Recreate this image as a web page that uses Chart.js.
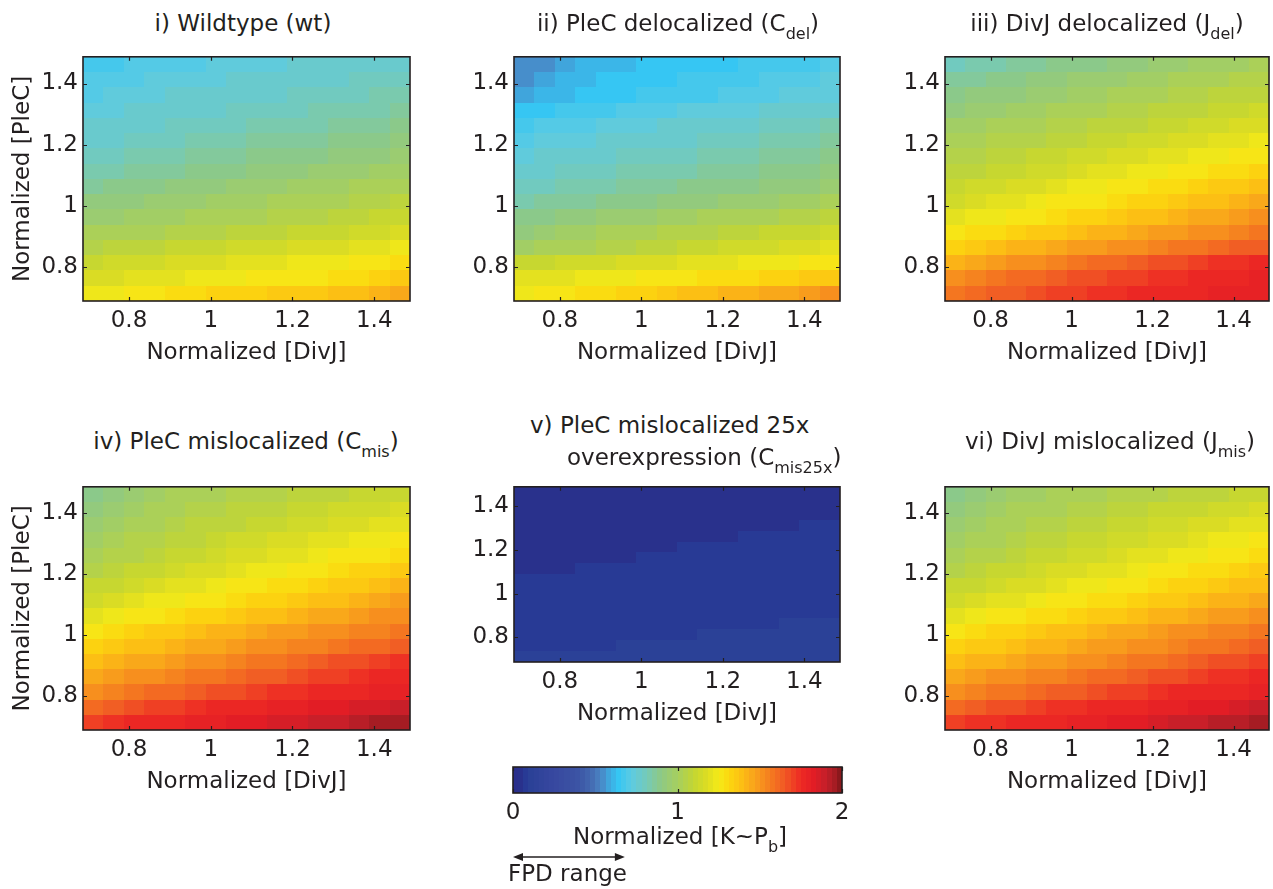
<!DOCTYPE html>
<html>
<head>
<meta charset="utf-8">
<script src="https://cdn.jsdelivr.net/npm/chart.js@4.4.1/dist/chart.umd.min.js"></script>
<style>
  html, body { margin: 0; padding: 0; background: #fff; }
  body { width: 1273px; height: 889px; position: relative; overflow: hidden;
         font-family: 'DejaVu Sans', sans-serif; color: #231f20; }
  canvas { position: absolute; }
  .lbl { position: absolute; font-size: 23px; line-height: 23px; white-space: nowrap; }
  .ctr { width: 600px; text-align: center; }
  .sub { font-size: 16px; position: relative; top: 8px; }
</style>
</head>
<body>
<canvas id="wt"></canvas>
<canvas id="cdel"></canvas>
<canvas id="jdel"></canvas>
<canvas id="cmis"></canvas>
<canvas id="cmis25x"></canvas>
<canvas id="jmis"></canvas>
<canvas id="cbar"></canvas>

<div class="lbl ctr" style="left:-57px; top:12px;">i) Wildtype (wt)</div>
<div class="lbl ctr" style="left:378px; top:12px;">ii) PleC delocalized (C<span class="sub">del</span>)</div>
<div class="lbl ctr" style="left:807px; top:12px;">iii) DivJ delocalized (J<span class="sub">del</span>)</div>
<div class="lbl ctr" style="left:-54px; top:430px;">iv) PleC mislocalized (C<span class="sub">mis</span>)</div>
<div class="lbl" style="left:530px; top:414px;">v) PleC mislocalized 25x</div>
<div class="lbl" style="left:567px; top:446px;">overexpression (C<span class="sub">mis25x</span>)</div>
<div class="lbl ctr" style="left:810px; top:430px;">vi) DivJ mislocalized (J<span class="sub">mis</span>)</div>
<div class="lbl" style="left:573px; top:825px;">Normalized [K~P<span class="sub">b</span>]</div>
<div class="lbl" style="left:508px; top:862px;">FPD range</div>

<script>
// grid of the simulations (cell centres)
const divjLevels = [0.7125, 0.7625, 0.8125, 0.8625, 0.9125, 0.9625, 1.0125, 1.0625,
                    1.1125, 1.1625, 1.2125, 1.2625, 1.3125, 1.3625, 1.4125, 1.4625];
const plecLevels = [1.4625, 1.4125, 1.3625, 1.3125, 1.2625, 1.2125, 1.1625, 1.1125,
                    1.0625, 1.0125, 0.9625, 0.9125, 0.8625, 0.8125, 0.7625, 0.7125];
const axisTicks = [0.8, 1, 1.2, 1.4];
const colorbarTicks = [0, 1, 2];
const fpdRange = [0, 0.68];

// normalized K~Pb, one row per PleC level (top row = highest PleC)
const wtRows = [
  [0.67,0.68,0.69,0.70,0.71,0.71,0.72,0.73,0.74,0.74,0.75,0.76,0.76,0.77,0.78,0.78],
  [0.69,0.70,0.71,0.72,0.73,0.73,0.74,0.75,0.76,0.76,0.77,0.78,0.78,0.79,0.80,0.80],
  [0.71,0.72,0.73,0.74,0.75,0.75,0.76,0.77,0.78,0.78,0.79,0.80,0.80,0.81,0.82,0.83],
  [0.73,0.74,0.75,0.76,0.77,0.77,0.78,0.79,0.80,0.80,0.81,0.82,0.83,0.83,0.84,0.85],
  [0.75,0.76,0.77,0.78,0.79,0.80,0.80,0.81,0.82,0.83,0.84,0.84,0.85,0.86,0.87,0.88],
  [0.77,0.78,0.79,0.80,0.81,0.82,0.83,0.84,0.85,0.85,0.86,0.87,0.88,0.89,0.90,0.91],
  [0.80,0.81,0.82,0.83,0.84,0.85,0.86,0.87,0.88,0.89,0.89,0.90,0.91,0.92,0.93,0.94],
  [0.83,0.84,0.85,0.86,0.87,0.88,0.89,0.90,0.91,0.92,0.93,0.94,0.95,0.96,0.97,0.98],
  [0.87,0.88,0.89,0.90,0.91,0.92,0.93,0.94,0.95,0.96,0.97,0.98,0.99,1.00,1.02,1.03],
  [0.91,0.92,0.93,0.94,0.95,0.96,0.97,0.98,0.99,1.00,1.01,1.02,1.03,1.05,1.06,1.07],
  [0.95,0.96,0.97,0.98,0.99,1.00,1.01,1.02,1.03,1.04,1.05,1.06,1.07,1.08,1.10,1.11],
  [1.00,1.01,1.02,1.03,1.04,1.05,1.06,1.07,1.08,1.09,1.10,1.11,1.12,1.13,1.14,1.16],
  [1.06,1.07,1.08,1.09,1.10,1.11,1.12,1.13,1.14,1.15,1.16,1.17,1.18,1.19,1.21,1.23],
  [1.12,1.13,1.14,1.15,1.16,1.17,1.18,1.19,1.20,1.21,1.22,1.23,1.24,1.25,1.27,1.29],
  [1.17,1.18,1.19,1.20,1.21,1.22,1.23,1.24,1.25,1.26,1.27,1.28,1.29,1.30,1.32,1.35],
  [1.22,1.24,1.26,1.27,1.29,1.30,1.32,1.33,1.34,1.35,1.36,1.37,1.38,1.40,1.42,1.45]
];
const cdelRows = [
  [0.54,0.56,0.58,0.60,0.61,0.62,0.63,0.64,0.64,0.65,0.65,0.66,0.66,0.67,0.68,0.69],
  [0.56,0.58,0.60,0.62,0.63,0.64,0.64,0.65,0.66,0.66,0.67,0.68,0.69,0.70,0.71,0.72],
  [0.58,0.60,0.62,0.63,0.64,0.65,0.66,0.67,0.68,0.68,0.69,0.70,0.71,0.72,0.73,0.74],
  [0.64,0.65,0.66,0.67,0.68,0.69,0.70,0.71,0.72,0.73,0.73,0.74,0.75,0.76,0.77,0.78],
  [0.68,0.69,0.70,0.71,0.72,0.73,0.74,0.75,0.75,0.76,0.77,0.78,0.79,0.80,0.81,0.82],
  [0.71,0.72,0.73,0.74,0.75,0.76,0.77,0.78,0.78,0.79,0.80,0.81,0.82,0.83,0.84,0.85],
  [0.74,0.75,0.76,0.77,0.78,0.79,0.80,0.81,0.81,0.82,0.83,0.84,0.85,0.86,0.87,0.88],
  [0.77,0.78,0.79,0.80,0.81,0.82,0.83,0.83,0.84,0.85,0.86,0.87,0.88,0.89,0.90,0.91],
  [0.80,0.81,0.82,0.83,0.84,0.85,0.86,0.87,0.88,0.89,0.89,0.90,0.91,0.92,0.93,0.94],
  [0.84,0.85,0.86,0.87,0.88,0.89,0.90,0.91,0.92,0.93,0.94,0.95,0.96,0.97,0.98,1.00],
  [0.89,0.90,0.91,0.93,0.94,0.95,0.96,0.97,0.99,1.00,1.01,1.02,1.03,1.05,1.06,1.08],
  [0.93,0.95,0.97,0.99,1.00,1.01,1.03,1.04,1.05,1.06,1.08,1.09,1.10,1.11,1.12,1.13],
  [0.99,1.00,1.02,1.03,1.05,1.06,1.08,1.09,1.10,1.11,1.13,1.14,1.15,1.17,1.18,1.20],
  [1.10,1.12,1.13,1.14,1.15,1.16,1.17,1.18,1.19,1.20,1.21,1.22,1.23,1.24,1.25,1.26],
  [1.19,1.20,1.21,1.22,1.23,1.24,1.25,1.26,1.27,1.29,1.30,1.31,1.32,1.33,1.35,1.37],
  [1.23,1.25,1.27,1.29,1.30,1.32,1.34,1.36,1.38,1.40,1.41,1.43,1.45,1.46,1.48,1.50]
];
const jdelRows = [
  [0.81,0.82,0.84,0.85,0.86,0.88,0.89,0.90,0.91,0.93,0.94,0.95,0.97,0.98,0.99,1.01],
  [0.86,0.87,0.88,0.90,0.91,0.92,0.94,0.95,0.96,0.97,0.99,1.00,1.01,1.03,1.04,1.05],
  [0.89,0.91,0.92,0.93,0.95,0.96,0.97,0.99,1.00,1.01,1.03,1.04,1.05,1.07,1.08,1.09],
  [0.93,0.95,0.96,0.97,0.99,1.00,1.01,1.03,1.04,1.05,1.07,1.08,1.09,1.11,1.12,1.13],
  [0.97,0.99,1.00,1.01,1.03,1.04,1.05,1.07,1.08,1.09,1.11,1.12,1.13,1.15,1.16,1.17],
  [1.01,1.02,1.04,1.05,1.06,1.08,1.09,1.10,1.12,1.13,1.15,1.16,1.17,1.19,1.20,1.22],
  [1.04,1.05,1.07,1.08,1.10,1.11,1.13,1.14,1.16,1.17,1.19,1.20,1.22,1.23,1.25,1.27],
  [1.07,1.09,1.10,1.12,1.14,1.15,1.17,1.19,1.20,1.22,1.24,1.25,1.27,1.29,1.30,1.32],
  [1.11,1.13,1.15,1.17,1.18,1.20,1.22,1.24,1.26,1.27,1.29,1.31,1.33,1.35,1.36,1.38],
  [1.15,1.17,1.19,1.21,1.23,1.25,1.26,1.28,1.30,1.32,1.34,1.36,1.38,1.40,1.42,1.44],
  [1.20,1.22,1.24,1.26,1.28,1.30,1.32,1.34,1.36,1.38,1.40,1.42,1.44,1.46,1.48,1.50],
  [1.26,1.29,1.31,1.33,1.35,1.37,1.39,1.41,1.43,1.45,1.47,1.49,1.51,1.53,1.55,1.57],
  [1.34,1.37,1.39,1.41,1.43,1.45,1.47,1.49,1.51,1.53,1.55,1.57,1.59,1.61,1.63,1.65],
  [1.42,1.45,1.48,1.50,1.53,1.55,1.58,1.60,1.62,1.64,1.66,1.68,1.70,1.72,1.74,1.76],
  [1.52,1.55,1.58,1.60,1.62,1.64,1.66,1.68,1.70,1.71,1.73,1.74,1.75,1.77,1.78,1.79],
  [1.57,1.60,1.63,1.65,1.67,1.69,1.71,1.72,1.74,1.75,1.76,1.77,1.78,1.79,1.80,1.81]
];
const cmisRows = [
  [0.88,0.92,0.96,0.98,1.00,1.01,1.02,1.04,1.05,1.06,1.07,1.08,1.09,1.10,1.11,1.12],
  [0.93,0.96,0.99,1.01,1.03,1.04,1.05,1.07,1.08,1.09,1.10,1.12,1.13,1.14,1.15,1.17],
  [0.96,0.99,1.01,1.03,1.05,1.07,1.08,1.09,1.11,1.12,1.14,1.15,1.16,1.18,1.19,1.21],
  [0.99,1.01,1.04,1.06,1.08,1.09,1.11,1.13,1.14,1.16,1.17,1.19,1.21,1.22,1.24,1.26],
  [1.02,1.04,1.06,1.08,1.10,1.12,1.14,1.16,1.18,1.19,1.21,1.23,1.25,1.27,1.28,1.30],
  [1.06,1.08,1.10,1.12,1.14,1.16,1.18,1.20,1.22,1.24,1.26,1.28,1.30,1.32,1.33,1.35],
  [1.10,1.12,1.14,1.16,1.19,1.21,1.23,1.25,1.27,1.29,1.31,1.33,1.35,1.37,1.39,1.41],
  [1.15,1.17,1.20,1.22,1.24,1.26,1.28,1.30,1.32,1.34,1.36,1.38,1.40,1.43,1.45,1.47],
  [1.20,1.23,1.26,1.28,1.30,1.32,1.34,1.36,1.38,1.40,1.42,1.44,1.46,1.48,1.50,1.52],
  [1.27,1.30,1.33,1.35,1.37,1.39,1.41,1.43,1.45,1.47,1.49,1.51,1.53,1.55,1.56,1.58],
  [1.33,1.36,1.38,1.40,1.42,1.44,1.46,1.48,1.50,1.52,1.54,1.56,1.58,1.60,1.62,1.64],
  [1.39,1.42,1.44,1.46,1.49,1.51,1.53,1.55,1.57,1.59,1.61,1.64,1.66,1.68,1.70,1.73],
  [1.46,1.49,1.51,1.53,1.55,1.57,1.59,1.61,1.63,1.65,1.67,1.69,1.71,1.73,1.75,1.76],
  [1.53,1.56,1.58,1.60,1.62,1.64,1.66,1.68,1.70,1.72,1.74,1.76,1.77,1.78,1.79,1.80],
  [1.62,1.65,1.67,1.69,1.71,1.73,1.75,1.77,1.78,1.79,1.80,1.82,1.83,1.85,1.86,1.88],
  [1.70,1.73,1.75,1.77,1.78,1.79,1.80,1.82,1.83,1.85,1.87,1.88,1.90,1.92,1.94,1.96]
];
const cmis25xRows = [
  [0.05,0.05,0.05,0.05,0.05,0.05,0.05,0.05,0.05,0.05,0.05,0.05,0.05,0.05,0.05,0.05],
  [0.05,0.05,0.05,0.05,0.05,0.05,0.05,0.05,0.05,0.05,0.05,0.05,0.05,0.05,0.05,0.05],
  [0.05,0.05,0.05,0.05,0.05,0.05,0.05,0.05,0.05,0.05,0.05,0.05,0.05,0.05,0.05,0.05],
  [0.05,0.05,0.05,0.05,0.05,0.05,0.05,0.05,0.05,0.05,0.05,0.05,0.05,0.05,0.08,0.08],
  [0.05,0.05,0.05,0.05,0.05,0.05,0.05,0.05,0.05,0.05,0.05,0.08,0.08,0.08,0.08,0.08],
  [0.05,0.05,0.05,0.05,0.05,0.05,0.05,0.05,0.08,0.08,0.08,0.08,0.08,0.08,0.08,0.08],
  [0.05,0.05,0.05,0.05,0.05,0.05,0.08,0.08,0.08,0.08,0.08,0.08,0.08,0.08,0.08,0.08],
  [0.05,0.05,0.05,0.08,0.08,0.08,0.08,0.08,0.08,0.08,0.08,0.08,0.08,0.08,0.08,0.08],
  [0.08,0.08,0.08,0.08,0.08,0.08,0.08,0.08,0.08,0.08,0.08,0.08,0.08,0.08,0.08,0.08],
  [0.08,0.08,0.08,0.08,0.08,0.08,0.08,0.08,0.08,0.08,0.08,0.08,0.08,0.08,0.08,0.08],
  [0.08,0.08,0.08,0.08,0.08,0.08,0.08,0.08,0.08,0.08,0.08,0.08,0.08,0.08,0.08,0.08],
  [0.08,0.08,0.08,0.08,0.08,0.08,0.08,0.08,0.08,0.08,0.08,0.08,0.08,0.08,0.08,0.08],
  [0.08,0.08,0.08,0.08,0.08,0.08,0.08,0.08,0.08,0.08,0.08,0.08,0.08,0.11,0.11,0.11],
  [0.08,0.08,0.08,0.08,0.08,0.08,0.08,0.08,0.08,0.11,0.11,0.11,0.11,0.11,0.11,0.11],
  [0.08,0.08,0.08,0.08,0.08,0.11,0.11,0.11,0.11,0.11,0.11,0.11,0.11,0.11,0.11,0.11],
  [0.11,0.11,0.11,0.11,0.11,0.11,0.11,0.11,0.11,0.11,0.11,0.11,0.11,0.11,0.11,0.11]
];
const jmisRows = [
  [0.88,0.92,0.95,0.97,0.99,1.00,1.01,1.03,1.04,1.05,1.06,1.07,1.08,1.09,1.10,1.11],
  [0.92,0.95,0.98,1.00,1.02,1.03,1.05,1.06,1.07,1.08,1.10,1.11,1.12,1.13,1.15,1.16],
  [0.95,0.98,1.00,1.02,1.04,1.06,1.07,1.09,1.10,1.12,1.13,1.14,1.16,1.17,1.19,1.20],
  [0.98,1.01,1.03,1.05,1.07,1.09,1.10,1.12,1.14,1.15,1.17,1.18,1.20,1.22,1.23,1.25],
  [1.02,1.04,1.06,1.08,1.10,1.12,1.14,1.15,1.17,1.19,1.21,1.22,1.24,1.26,1.28,1.30],
  [1.05,1.08,1.10,1.12,1.14,1.16,1.18,1.20,1.21,1.23,1.25,1.27,1.29,1.31,1.33,1.35],
  [1.10,1.12,1.14,1.16,1.18,1.20,1.22,1.24,1.26,1.28,1.30,1.32,1.34,1.36,1.38,1.40],
  [1.15,1.17,1.19,1.21,1.23,1.25,1.27,1.29,1.31,1.33,1.35,1.37,1.39,1.41,1.43,1.45],
  [1.20,1.22,1.25,1.27,1.29,1.31,1.33,1.35,1.37,1.39,1.41,1.43,1.45,1.47,1.49,1.51],
  [1.27,1.30,1.32,1.34,1.36,1.38,1.40,1.42,1.44,1.46,1.48,1.50,1.52,1.54,1.56,1.58],
  [1.33,1.35,1.37,1.39,1.41,1.43,1.45,1.47,1.49,1.51,1.53,1.55,1.57,1.59,1.61,1.63],
  [1.38,1.41,1.43,1.45,1.47,1.49,1.51,1.53,1.55,1.57,1.59,1.62,1.64,1.66,1.68,1.70],
  [1.45,1.47,1.50,1.52,1.54,1.56,1.58,1.60,1.62,1.64,1.66,1.68,1.70,1.72,1.74,1.76],
  [1.52,1.55,1.57,1.59,1.61,1.63,1.65,1.67,1.69,1.71,1.73,1.75,1.76,1.77,1.78,1.80],
  [1.61,1.64,1.66,1.68,1.70,1.72,1.74,1.76,1.77,1.78,1.80,1.81,1.83,1.84,1.86,1.88],
  [1.69,1.72,1.74,1.76,1.77,1.78,1.80,1.81,1.83,1.84,1.86,1.88,1.89,1.91,1.93,1.95]
];

// printed jet colormap, sampled off the colour bar
const jetStops = [
  [0.00, '#2a2e8c'], [0.047, '#29318c'], [0.078, '#283a95'], [0.109, '#2b4197'],
  [0.24, '#37479f'], [0.40, '#3c55a5'], [0.47, '#4368b0'], [0.53, '#4a82c2'],
  [0.58, '#40a6dd'], [0.64, '#36c6f3'], [0.72, '#5ccbe2'], [0.80, '#72cabe'],
  [0.90, '#8ec985'], [1.00, '#a6cf5f'], [1.10, '#c4d632'], [1.18, '#dcdd22'],
  [1.25, '#f5ea18'], [1.31, '#fcd80f'], [1.39, '#fcbf14'], [1.49, '#f89a1d'],
  [1.57, '#f47920'], [1.65, '#f15a24'], [1.75, '#ed2a24'], [1.83, '#e21d25'],
  [1.90, '#c51f2a'], [1.96, '#a21c22'], [2.00, '#7d1518']
];
const nColors = 64, cMax = 2;
const ink = '#231f20';

function hexRgb(h) {
  return [parseInt(h.slice(1, 3), 16), parseInt(h.slice(3, 5), 16), parseInt(h.slice(5, 7), 16)];
}
function jetAt(t) {
  for (let i = 1; i < jetStops.length; i++) {
    if (t <= jetStops[i][0]) {
      const [t0, c0] = jetStops[i - 1], [t1, c1] = jetStops[i];
      const f = (t - t0) / (t1 - t0), a = hexRgb(c0), b = hexRgb(c1);
      return 'rgb(' + a.map((v, k) => Math.round(v + (b[k] - v) * f)).join(',') + ')';
    }
  }
  return jetStops[jetStops.length - 1][1];
}
// quantize like a 64 entry colormap
function colorFor(v) {
  let idx = Math.floor(v / cMax * nColors);
  idx = Math.max(0, Math.min(nColors - 1, idx));
  return jetAt((idx + 0.5) * cMax / nColors);
}

// cell edges shared by neighbours, so no seams
function cellEdges(centres) {
  const h = Math.abs(centres[1] - centres[0]) / 2;
  const sgn = centres[1] > centres[0] ? 1 : -1;
  const e = [centres[0] - sgn * h];
  for (let i = 1; i < centres.length; i++) e.push((centres[i - 1] + centres[i]) / 2);
  e.push(centres[centres.length - 1] + sgn * h);
  return e;
}
const divjEdges = cellEdges(divjLevels);
const plecEdges = cellEdges(plecLevels);

function drawInwardTicks(ctx, area, scales, len) {
  ctx.strokeStyle = ink;
  ctx.lineWidth = 1.2;
  ctx.beginPath();
  (scales.x.ticks || []).forEach(t => {
    const px = Math.round(scales.x.getPixelForValue(t.value)) + 0.5;
    ctx.moveTo(px, area.top); ctx.lineTo(px, area.top + len);
    ctx.moveTo(px, area.bottom); ctx.lineTo(px, area.bottom - len);
  });
  if (scales.y && scales.y.options.display) {
    scales.y.ticks.forEach(t => {
      const py = Math.round(scales.y.getPixelForValue(t.value)) + 0.5;
      ctx.moveTo(area.left, py); ctx.lineTo(area.left + len, py);
      ctx.moveTo(area.right, py); ctx.lineTo(area.right - len, py);
    });
  }
  ctx.stroke();
}

const heatmap = {
  id: 'heatmap',
  beforeDatasetsDraw(chart, args, opts) {
    const {ctx, scales: {x, y}} = chart;
    const xs = divjEdges.map(v => Math.round(x.getPixelForValue(v)));
    const ys = plecEdges.map(v => Math.round(y.getPixelForValue(v)));
    ctx.save();
    opts.rows.forEach((row, r) => {
      row.forEach((v, c) => {
        ctx.fillStyle = colorFor(v);
        ctx.fillRect(xs[c], ys[r], xs[c + 1] - xs[c], ys[r + 1] - ys[r]);
      });
    });
    ctx.restore();
  },
  afterDraw(chart) {
    const {ctx, chartArea: a} = chart;
    ctx.save();
    drawInwardTicks(ctx, a, chart.scales, 4);
    ctx.lineWidth = 1.6;
    ctx.strokeStyle = ink;
    ctx.strokeRect(a.left, a.top, a.right - a.left, a.bottom - a.top);
    ctx.restore();
  }
};

Chart.defaults.font.family = "'DejaVu Sans', sans-serif";
Chart.defaults.font.size = 23;
Chart.defaults.color = ink;

const panels = [
  {id: 'wt',      rows: wtRows,      x: 83,  y: 50,  w: 327, h: 251, yTitle: true},
  {id: 'cdel',    rows: cdelRows,    x: 514, y: 50,  w: 326, h: 251, yTitle: false},
  {id: 'jdel',    rows: jdelRows,    x: 945, y: 50,  w: 324, h: 251, yTitle: false},
  {id: 'cmis',    rows: cmisRows,    x: 83,  y: 480, w: 327, h: 250, yTitle: true},
  {id: 'cmis25x', rows: cmis25xRows, x: 514, y: 480, w: 326, h: 182, yTitle: false},
  {id: 'jmis',    rows: jmisRows,    x: 945, y: 480, w: 324, h: 250, yTitle: false}
];

const padL = 82, padT = 12, padR = 4, axisH = 66;

panels.forEach(p => {
  const cv = document.getElementById(p.id);
  cv.width = padL + p.w + padR;
  cv.height = padT + p.h + axisH;
  cv.style.left = (p.x - padL) + 'px';
  cv.style.top = (p.y - padT) + 'px';

  new Chart(cv, {
    type: 'scatter',
    data: { datasets: [{ data: [] }] },
    options: {
      responsive: false,
      animation: false,
      devicePixelRatio: 1,
      layout: { padding: { left: 0, top: padT, right: padR, bottom: 0 } },
      plugins: {
        legend: { display: false },
        tooltip: { enabled: false },
        heatmap: { rows: p.rows }
      },
      scales: {
        x: {
          type: 'linear',
          min: 0.6875,
          max: 1.4875,
          afterBuildTicks: s => { s.ticks = axisTicks.map(v => ({ value: v })); },
          afterFit: s => { s.height = axisH; },
          ticks: { padding: 6, maxRotation: 0, autoSkip: false, callback: v => String(v) },
          grid: { display: false, drawTicks: false },
          border: { display: false },
          title: { display: true, text: 'Normalized [DivJ]', padding: { top: 0, bottom: 0 } }
        },
        y: {
          type: 'linear',
          min: 0.6875,
          max: 1.4875,
          afterBuildTicks: s => { s.ticks = axisTicks.map(v => ({ value: v })); },
          afterFit: s => { s.width = padL; },
          ticks: { padding: 5, autoSkip: false, callback: v => String(v) },
          grid: { display: false, drawTicks: false },
          border: { display: false },
          title: { display: p.yTitle, text: 'Normalized [PleC]', padding: { top: 8, bottom: 0 } }
        }
      }
    },
    plugins: [heatmap]
  });
});

// colour bar
const colorbar = {
  id: 'colorbar',
  beforeDatasetsDraw(chart) {
    const {ctx, chartArea: a, scales: {x}} = chart;
    ctx.save();
    for (let i = 0; i < nColors; i++) {
      const v0 = i * cMax / nColors, v1 = (i + 1) * cMax / nColors;
      const x0 = Math.round(x.getPixelForValue(v0));
      const x1 = Math.round(x.getPixelForValue(v1));
      ctx.fillStyle = colorFor((v0 + v1) / 2);
      ctx.fillRect(x0, a.top, x1 - x0, a.bottom - a.top);
    }
    ctx.restore();
  },
  afterDraw(chart) {
    const {ctx, chartArea: a, scales: {x}} = chart;
    ctx.save();
    drawInwardTicks(ctx, a, { x: x }, 4);
    ctx.lineWidth = 1.6;
    ctx.strokeStyle = ink;
    ctx.strokeRect(a.left, a.top, a.right - a.left, a.bottom - a.top);

    // FPD range double arrow
    const ay = a.bottom + 64;
    const xa = x.getPixelForValue(fpdRange[0]), xb = x.getPixelForValue(fpdRange[1]);
    ctx.fillStyle = ink;
    ctx.lineWidth = 1.4;
    ctx.beginPath();
    ctx.moveTo(xa + 6, ay); ctx.lineTo(xb - 6, ay);
    ctx.stroke();
    ctx.beginPath();
    ctx.moveTo(xa, ay); ctx.lineTo(xa + 10, ay - 4); ctx.lineTo(xa + 10, ay + 4); ctx.closePath();
    ctx.moveTo(xb, ay); ctx.lineTo(xb - 10, ay - 4); ctx.lineTo(xb - 10, ay + 4); ctx.closePath();
    ctx.fill();
    ctx.restore();
  }
};

const cb = document.getElementById('cbar');
cb.width = 369;
cb.height = 129;
cb.style.left = '493px';
cb.style.top = '760px';
new Chart(cb, {
  type: 'scatter',
  data: { datasets: [{ data: [] }] },
  options: {
    responsive: false,
    animation: false,
    devicePixelRatio: 1,
    layout: { padding: { left: 20, top: 7, right: 20, bottom: 0 } },
    plugins: { legend: { display: false }, tooltip: { enabled: false } },
    scales: {
      x: {
        type: 'linear',
        min: 0,
        max: cMax,
        afterBuildTicks: s => { s.ticks = colorbarTicks.map(v => ({ value: v })); },
        afterFit: s => { s.height = 96; },
        ticks: { padding: 6, maxRotation: 0, autoSkip: false, callback: v => String(v) },
        grid: { display: false, drawTicks: false },
        border: { display: false }
      },
      y: { display: false, min: 0, max: 1 }
    }
  },
  plugins: [colorbar]
});
</script>
</body>
</html>
